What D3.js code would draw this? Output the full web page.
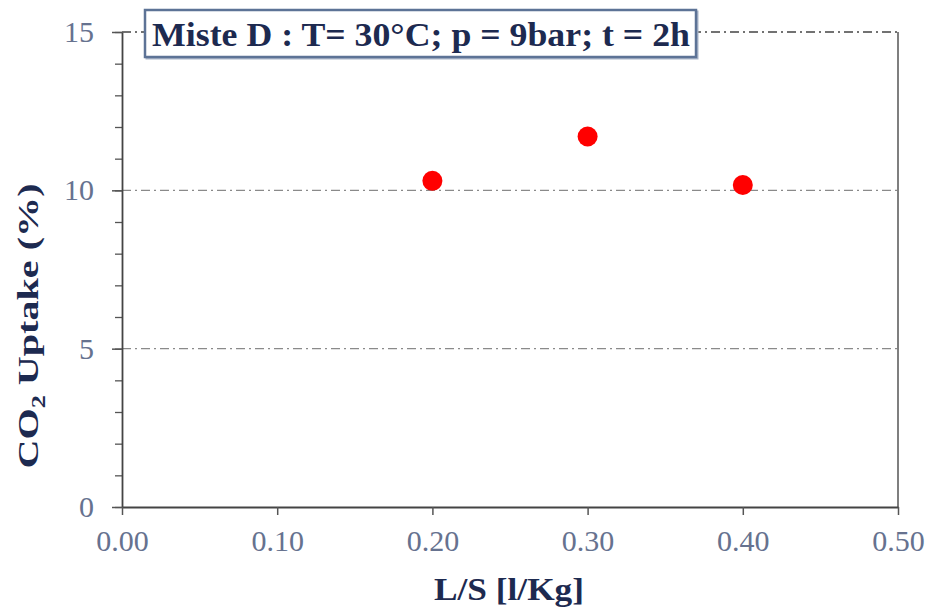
<!DOCTYPE html>
<html>
<head>
<meta charset="utf-8">
<script src="https://cdn.jsdelivr.net/npm/d3@7"></script>
<style>
  body { margin: 0; background: #fff; }
</style>
</head>
<body>
<div id="chart"></div>
<script>
// datos
var ratioLS = [0.20, 0.30, 0.40];
var uptake = [10.3, 11.7, 10.17];
var xTicks = [0, 0.1, 0.2, 0.3, 0.4, 0.5];
var yMajor = [0, 5, 10, 15];
var yMinor = d3.range(0, 16, 1);
var gridY = [5, 10];
var titulo = "Miste D : T= 30°C; p = 9bar; t = 2h";

var fuente = "'Liberation Serif', 'Times New Roman', serif";
var margin = { top: 32, right: 30, bottom: 101, left: 122 };
var canvas = d3.select("#chart").append("svg").attr("width", 928).attr("height", 608)
    .style("font-family", fuente);
var width = 928 - margin.left - margin.right;
var height = 608 - margin.top - margin.bottom;

var xScale = d3.scaleLinear().domain([0, 0.5]).range([0, width]);
var yScale = d3.scaleLinear().domain([0, 15]).range([height, 0]);

var chartGroup = canvas.append("g")
    .attr("transform", "translate(" + margin.left + "," + margin.top + ")");

// lineas de grilla punto-raya
chartGroup.selectAll(".grid")
    .data(gridY)
    .enter().append("line")
    .attr("class", "grid")
    .attr("x1", 0).attr("x2", width)
    .attr("y1", d => yScale(d)).attr("y2", d => yScale(d))
    .attr("stroke", "#8a8a8a").attr("stroke-width", 1.4)
    .attr("stroke-dasharray", "9,4,2,4");

// borde superior (punto-raya) y derecho (solido)
chartGroup.append("line")
    .attr("x1", 0).attr("x2", xScale(0.5))
    .attr("y1", yScale(15)).attr("y2", yScale(15))
    .attr("stroke", "#444").attr("stroke-width", 1.5)
    .attr("stroke-dasharray", "9,4,2,4");
chartGroup.append("line")
    .attr("x1", xScale(0.5)).attr("x2", xScale(0.5))
    .attr("y1", yScale(15)).attr("y2", yScale(0))
    .attr("stroke", "#555").attr("stroke-width", 1.5);

// eje y: menores y mayores
var yMinorAxis = chartGroup.append("g")
    .call(d3.axisLeft(yScale).tickValues(yMinor).tickSize(7).tickSizeOuter(0).tickFormat(""));
var yAxis = chartGroup.append("g")
    .call(d3.axisLeft(yScale).tickValues(yMajor).tickSize(10).tickSizeOuter(0).tickPadding(18));
yMinorAxis.selectAll("line").attr("stroke", "#555").attr("stroke-width", 1.3);
yAxis.selectAll("line").attr("stroke", "#555").attr("stroke-width", 1.5);
yAxis.select(".domain").attr("stroke", "#444").attr("stroke-width", 1.8);
yMinorAxis.select(".domain").remove();
yAxis.attr("font-family", fuente).attr("font-size", 30);
yAxis.selectAll("text").attr("fill", "#66728f");

// eje x
var xAxis = chartGroup.append("g")
    .attr("transform", "translate(0," + height + ")")
    .call(d3.axisBottom(xScale).tickValues(xTicks).tickSize(8).tickSizeOuter(0)
        .tickPadding(15).tickFormat(d3.format(".2f")));
xAxis.selectAll("line").attr("stroke", "#555").attr("stroke-width", 1.5);
xAxis.select(".domain").attr("stroke", "#444").attr("stroke-width", 1.8);
xAxis.attr("font-family", fuente).attr("font-size", 30);
xAxis.selectAll("text").attr("fill", "#66728f");

// puntos
chartGroup.selectAll(".punto")
    .data(ratioLS)
    .enter().append("circle")
    .attr("class", "punto")
    .attr("cx", d => xScale(d))
    .attr("cy", (d, i) => yScale(uptake[i]))
    .attr("r", 10)
    .attr("fill", "#ff0000");

// titulo con caja
var tituloG = canvas.append("g");
tituloG.append("rect")
    .attr("x", 145).attr("y", 10).attr("width", 551).attr("height", 47)
    .attr("fill", "#fff").attr("stroke", "#aab5c8").attr("stroke-width", 2)
    .attr("transform", "translate(1.5,1.5)");
tituloG.append("rect")
    .attr("x", 145).attr("y", 10).attr("width", 551).attr("height", 47)
    .attr("fill", "#fff").attr("stroke", "#5d7396").attr("stroke-width", 2.5);
tituloG.append("text")
    .attr("x", 152).attr("y", 46)
    .attr("font-size", 33).attr("font-weight", "bold").attr("fill", "#1d2a50")
    .attr("textLength", 538).attr("lengthAdjust", "spacingAndGlyphs")
    .text(titulo);

// etiqueta eje x
canvas.append("text")
    .attr("x", 509).attr("y", 600)
    .attr("text-anchor", "middle")
    .attr("font-size", 31).attr("font-weight", "bold").attr("fill", "#1d2a50")
    .attr("textLength", 150).attr("lengthAdjust", "spacingAndGlyphs")
    .text("L/S [l/Kg]");

// etiqueta eje y
var yLabel = canvas.append("text")
    .attr("transform", "translate(38,326) rotate(-90)")
    .attr("text-anchor", "middle")
    .attr("font-size", 29).attr("font-weight", "bold").attr("fill", "#1d2a50")
    .attr("textLength", 285).attr("lengthAdjust", "spacingAndGlyphs");
yLabel.append("tspan").text("CO");
yLabel.append("tspan").attr("font-size", 19).attr("dy", 7).text("2");
yLabel.append("tspan").attr("dy", -7).text(" Uptake (%)");
</script>
</body>
</html>
